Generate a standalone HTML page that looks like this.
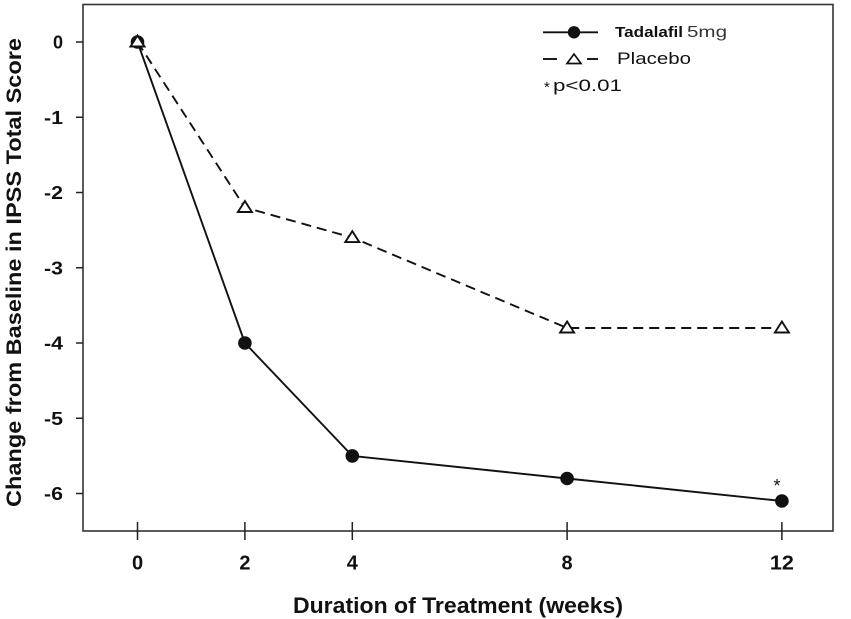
<!DOCTYPE html>
<html>
<head>
<meta charset="utf-8">
<style>
  html, body { margin: 0; padding: 0; background: #ffffff; }
  svg { display: block; }
  text { font-family: "Liberation Sans", Arial, sans-serif; fill: #111; }
</style>
</head>
<body>
<svg width="851" height="619" viewBox="0 0 851 619" xmlns="http://www.w3.org/2000/svg">
  <rect x="0" y="0" width="851" height="619" fill="#ffffff"/>

  <!-- frame -->
  <rect x="83" y="4.5" width="750" height="526.5" fill="none" stroke="#333" stroke-width="1.6"/>

  <!-- y ticks -->
  <g stroke="#222" stroke-width="1.5">
    <line x1="76" y1="42" x2="83" y2="42"/>
    <line x1="76" y1="117.25" x2="83" y2="117.25"/>
    <line x1="76" y1="192.5" x2="83" y2="192.5"/>
    <line x1="76" y1="267.75" x2="83" y2="267.75"/>
    <line x1="76" y1="343" x2="83" y2="343"/>
    <line x1="76" y1="418.25" x2="83" y2="418.25"/>
    <line x1="76" y1="493.5" x2="83" y2="493.5"/>
  </g>
  <!-- y tick labels -->
  <g font-size="18" font-weight="bold" text-anchor="end">
    <text x="63" y="48.5">0</text>
    <text x="63" y="123.75" textLength="19" lengthAdjust="spacingAndGlyphs">-1</text>
    <text x="63" y="199" textLength="19" lengthAdjust="spacingAndGlyphs">-2</text>
    <text x="63" y="274.25" textLength="19" lengthAdjust="spacingAndGlyphs">-3</text>
    <text x="63" y="349.5" textLength="19" lengthAdjust="spacingAndGlyphs">-4</text>
    <text x="63" y="424.75" textLength="19" lengthAdjust="spacingAndGlyphs">-5</text>
    <text x="63" y="500" textLength="19" lengthAdjust="spacingAndGlyphs">-6</text>
  </g>

  <!-- x ticks -->
  <g stroke="#222" stroke-width="1.5">
    <line x1="137.5" y1="522" x2="137.5" y2="540"/>
    <line x1="244.9" y1="522" x2="244.9" y2="540"/>
    <line x1="352.3" y1="522" x2="352.3" y2="540"/>
    <line x1="567.1" y1="522" x2="567.1" y2="540"/>
    <line x1="781.9" y1="522" x2="781.9" y2="540"/>
  </g>
  <!-- x tick labels -->
  <g font-size="20" font-weight="bold" text-anchor="middle">
    <text x="137.5" y="569.5">0</text>
    <text x="244.9" y="569.5">2</text>
    <text x="352.3" y="569.5">4</text>
    <text x="567.1" y="569.5">8</text>
    <text x="781.9" y="569.5" textLength="24" lengthAdjust="spacingAndGlyphs">12</text>
  </g>

  <!-- axis titles -->
  <text x="293" y="613" font-size="22" font-weight="bold" textLength="330" lengthAdjust="spacingAndGlyphs">Duration of Treatment (weeks)</text>
  <text transform="translate(21,272.5) rotate(-90)" x="0" y="0" font-size="21" font-weight="bold" text-anchor="middle" textLength="469" lengthAdjust="spacingAndGlyphs">Change from Baseline in IPSS Total Score</text>

  <!-- Tadalafil series -->
  <polyline points="137.5,42 244.9,343 352.3,455.9 567.1,478.5 781.9,501" fill="none" stroke="#111" stroke-width="1.9" stroke-linejoin="round"/>
  <g fill="#111">
    <circle cx="137.5" cy="42" r="6.8"/>
    <circle cx="244.9" cy="343" r="6.8"/>
    <circle cx="352.3" cy="455.9" r="6.8"/>
    <circle cx="567.1" cy="478.5" r="6.8"/>
    <circle cx="781.9" cy="501" r="6.8"/>
  </g>

  <!-- Placebo series -->
  <polyline points="137.5,42 244.9,207.5 352.3,237.6 567.1,328 781.9,328" fill="none" stroke="#111" stroke-width="1.9" stroke-dasharray="10,6" stroke-linejoin="round"/>
  <g fill="#fff" stroke="#111" stroke-width="1.9" stroke-linejoin="miter">
    <polygon points="130.5,46.5 144.5,46.5 137.5,35.5"/>
    <polygon points="237.9,212 251.9,212 244.9,201"/>
    <polygon points="345.3,242.1 359.3,242.1 352.3,231.1"/>
    <polygon points="560.1,332.5 574.1,332.5 567.1,321.5"/>
    <polygon points="774.9,332.5 788.9,332.5 781.9,321.5"/>
  </g>

  <!-- significance star -->
  <text x="777" y="492" font-size="18" text-anchor="middle">*</text>

  <!-- legend -->
  <line x1="543" y1="32.3" x2="598" y2="32.3" stroke="#111" stroke-width="1.9"/>
  <circle cx="574" cy="32.3" r="6.2" fill="#111"/>
  <text x="615" y="37" font-size="15" font-weight="bold" textLength="68" lengthAdjust="spacingAndGlyphs">Tadalafil</text>
  <text x="687" y="37" font-size="16" style="fill:#333" textLength="40" lengthAdjust="spacingAndGlyphs">5mg</text>

  <line x1="543" y1="59" x2="557" y2="59" stroke="#111" stroke-width="1.9"/>
  <line x1="587" y1="59" x2="598" y2="59" stroke="#111" stroke-width="1.9"/>
  <polygon points="567,63.5 581,63.5 574,54" fill="#fff" stroke="#111" stroke-width="1.7"/>
  <text x="617" y="64" font-size="17" textLength="74" lengthAdjust="spacingAndGlyphs">Placebo</text>

  <text x="544" y="92" font-size="15">*</text>
  <text x="553" y="91" font-size="17" textLength="69" lengthAdjust="spacingAndGlyphs">p&lt;0.01</text>
</svg>
</body>
</html>
